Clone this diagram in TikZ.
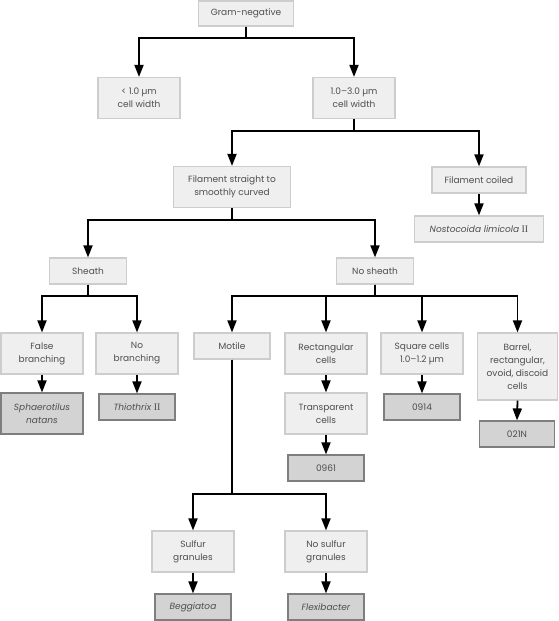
\documentclass[tikz,border=0pt]{standalone}
\usepackage{fontspec}
\setmainfont{Poppins}
\newfontfamily\romfont{Liberation Serif}
\usetikzlibrary{arrows.meta}
\definecolor{boxfill}{HTML}{EFEFEF}
\definecolor{boxline}{HTML}{CDCDCD}
\definecolor{leaffill}{HTML}{D3D3D3}
\definecolor{leafline}{HTML}{7E7E7E}
\definecolor{txt}{HTML}{4E4E4E}

\begin{document}
\begin{tikzpicture}[x=1pt,y=-1pt,
    box/.style={draw=boxline,fill=boxfill,line width=1.2pt,text=txt,
      font=\fontsize{9}{13}\selectfont,align=center,inner sep=0pt,
      minimum width=82pt,minimum height=26pt},
    tall/.style={box,minimum height=41pt},
    leaf/.style={box,draw=leafline,fill=leaffill,minimum width=76pt},
    arr/.style={line width=1.8pt,-{Triangle[width=9pt,length=12pt]}}]
  \useasboundingbox (0,0) rectangle (559,621);
  \node[box,minimum width=95pt,minimum height=25pt](gram) at (246,13.5){Gram-negative};
  \node[tall](narrow) at (139,98){< 1.0 µm\\cell width};
  \node[tall](wide) at (354,98){1.0–3.0 µm\\cell width};
  \node[tall,minimum width=117pt](straight) at (232,187){Filament straight to\\smoothly curved};
  \node[box,minimum width=94pt](coiled) at (479,180){Filament coiled};
  \node[box,minimum width=129pt](nostoc) at (479,229){\textit{Nostocoida limicola} {\romfont\fontsize{10}{13}\selectfont II}};
  \node[box,minimum width=77pt](sheath) at (88,271){Sheath};
  \node[box,minimum width=77pt](nosheath) at (375,271){No sheath};
  \node[tall,minimum width=82pt](falsebr) at (42,353.5){False\\branching};
  \node[tall](nobr) at (137,353.5){No\\branching};
  \node[box,minimum width=76pt](motile) at (232,346){Motile};
  \node[tall](rect) at (326,353.5){Rectangular\\cells};
  \node[tall](square) at (422,353.5){Square cells\\1.0–1.2 µm};
  \node[box,minimum width=80pt,minimum height=67pt](barrel) at (517.5,366.5){Barrel,\\rectangular,\\ovoid, discoid\\cells};
  \node[leaf,minimum width=82pt,minimum height=41pt](sphaero) at (42,413.5){\textit{Sphaerotilus}\\\textit{natans}};
  \node[leaf](thio) at (137,407){\textit{Thiothrix} {\romfont\fontsize{10}{13}\selectfont II}};
  \node[tall](transp) at (326,413.5){Transparent\\cells};
  \node[leaf](n0914) at (422,407){0914};
  \node[leaf,minimum width=75pt](n021N) at (517,434){021N};
  \node[leaf](n0961) at (326,468){0961};
  \node[tall](sulfur) at (193,551.5){Sulfur\\granules};
  \node[tall](nosulfur) at (326,551.5){No sulfur\\granules};
  \node[leaf](beggia) at (193,607){\textit{Beggiatoa}};
  \node[leaf](flexi) at (326,607){\textit{Flexibacter}};
  \foreach \a/\b in {gram/narrow,gram/wide,wide/straight,wide/coiled,
      straight/sheath,straight/nosheath,sheath/falsebr,sheath/nobr,
      nosheath/motile,nosheath/rect,nosheath/square,nosheath/barrel}
    \draw[arr] (\a.south) -- ++(0,11.5) -| (\b.north);
  \foreach \b in {sulfur,nosulfur}
    \draw[arr] (motile.south) -- ++(0,134) -| (\b.north);
  \foreach \a/\b in {coiled/nostoc,falsebr/sphaero,nobr/thio,rect/transp,
      transp/n0961,square/n0914,barrel/n021N,sulfur/beggia,nosulfur/flexi}
    \draw[arr] (\a.south) -- (\b.north);
\end{tikzpicture}
\end{document}
